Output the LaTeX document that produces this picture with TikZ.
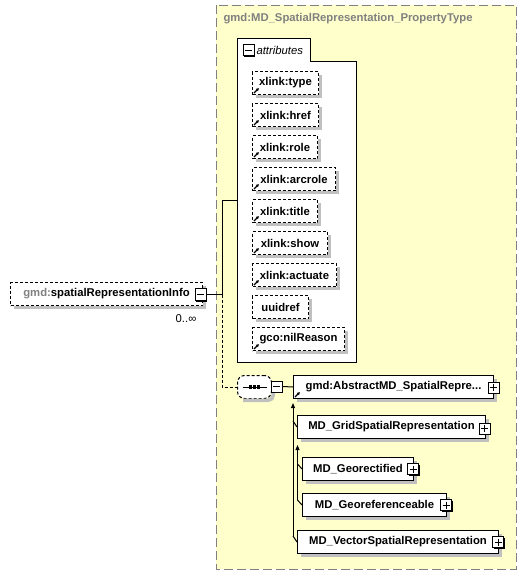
\documentclass[tikz,border=0pt]{standalone}
\usepackage{fontspec}
\setmainfont{Liberation Sans}
\usetikzlibrary{arrows.meta}
\definecolor{ylw}{RGB}{255,255,204}
\definecolor{gry}{RGB}{128,128,128}
\definecolor{shadowgray}{RGB}{192,192,192}
\newcommand{\iconbox}[4]{% name, x, y, style
  \node[#4] (#1) at (#2,#3) {};
  \draw[black,line width=1.2pt] (#2+6.1,#3-4.5) -- (#2+6.1,#3+6.1) -- (#2-4.5,#3+6.1);}
\newcommand{\sbx}[6]{% style, name, x, y, width, text
  \node[#1=#5] (#2) at (#3,#4) {#6};
  \draw[shadowgray,line width=3.5pt] (#3+#5+2.25,#4+4) -- (#3+#5+2.25,#4+25.25) -- (#3+4,#4+25.25);}
\begin{document}
\begin{tikzpicture}[x=1pt,y=-1pt,line width=1pt,
  lbl/.style={font=\fontsize{11.3}{13}\selectfont\bfseries},
  dbox/.style={lbl,draw,fill=white,anchor=north west,minimum height=23pt,inner sep=0pt,minimum width=#1},
  attrbox/.style={dbox=#1,dash pattern=on 3pt off 2pt},
  sbox/.style={dbox=#1},
  pm/.style={draw,fill=white,minimum width=11pt,minimum height=11pt,inner sep=0pt,line width=0.8pt},
  minusic/.style={pm,path picture={\draw[solid,line width=1pt] ([xshift=2pt]path picture bounding box.west) -- ([xshift=-2pt]path picture bounding box.east);}},
  plusic/.style={pm,path picture={\draw[solid,line width=1pt] ([xshift=2pt]path picture bounding box.west) -- ([xshift=-2pt]path picture bounding box.east);
     \draw[solid,line width=1pt] ([yshift=-2pt]path picture bounding box.north) -- ([yshift=2pt]path picture bounding box.south);}},
  refic/.style={line width=1.1pt,-{Latex[length=3pt,width=3.5pt]}},
  conn/.style={line width=1pt},
  tip/.style={line width=1pt,-{Triangle[length=5pt,width=4pt]}}
]
\useasboundingbox (0,0) rectangle (526,576);

% container and attribute group
\draw[gry,dash pattern=on 9pt off 4pt,fill=ylw] (216,5) rectangle (516,569);
\draw[fill=white] (237,38) -- (310,38) -- (310,61) -- (356,61) -- (356,362) -- (237,362) -- cycle;
\node[lbl,gry,anchor=west,inner sep=0pt] (title) at (223,19) {gmd:MD\_SpatialRepresentation\_PropertyType};

\iconbox{attrm}{248.5}{50}{minusic}
\node[anchor=west,inner sep=0pt,font=\fontsize{11.3}{13}\selectfont\itshape] (attrt) at (256,50) {attributes};
\coordinate (attrin) at (237,200);

\sbx{attrbox}{a1}{252}{71}{66}{xlink:type}
\sbx{attrbox}{a2}{252}{103}{66}{xlink:href}
\sbx{attrbox}{a3}{252}{135}{65}{xlink:role}
\sbx{attrbox}{a4}{252}{167}{83}{xlink:arcrole}
\sbx{attrbox}{a5}{252}{199}{65}{xlink:title}
\sbx{attrbox}{a6}{252}{231}{75}{xlink:show}
\sbx{attrbox}{a7}{252}{263}{84}{xlink:actuate}
\sbx{attrbox}{a8}{252}{295}{56}{uuidref}
\sbx{attrbox}{a9}{252}{327}{92}{gco:nilReason}
\foreach \n in {a1,a2,a3,a4,a5,a6,a7,a9}
  \draw[refic] ([shift={(2pt,2pt)}]\n.south west) -- ++(5pt,5pt);

% main element
\sbx{attrbox}{elem}{10}{282}{192}{\textcolor{gry}{gmd:}spatialRepresentationInfo}
\node[minusic,minimum height=12pt] (elemm) at (200.5,294.5) {};
\draw[black,line width=1.2pt] (206.6,289.5) -- (206.6,301.1) -- (196,301.1);
\node[font=\fontsize{11.3}{13}\selectfont,inner sep=0pt] (mult) at (186,319) {0..∞};

\coordinate (jn) at (222,294.5);
\coordinate (jtop) at (222,200);
\draw[conn] (elemm.east) -- (jn);
\draw[conn] (jn) -- (jtop) -- (attrin);

% sequence compositor
\node[draw,fill=white,dash pattern=on 3pt off 2pt,rounded corners=7pt,anchor=north west,
  minimum width=34pt,minimum height=23pt,inner sep=0pt] (seq) at (237,375) {};
\draw[shadowgray,line width=3.5pt,rounded corners=5pt] (273.25,381) -- (273.25,400.25) -- (243,400.25);
\draw[line width=1pt] ([xshift=-12pt]seq.center) -- ([xshift=12pt]seq.center);
\foreach \d in {-4,0,4}
  \fill[black] ([xshift=\d pt]seq.center) +(-1.6pt,-1.6pt) rectangle +(1.6pt,1.6pt);
\iconbox{seqm}{276.5}{386.5}{minusic}
\draw[conn,dash pattern=on 3pt off 2pt] (jn) |- (seq.west);

% children
\sbx{sbox}{abs}{293}{375}{200}{gmd:AbstractMD\_SpatialRepre...}
\iconbox{absp}{493.5}{387.5}{plusic}
\draw[refic] ([shift={(2pt,2pt)}]abs.south west) -- ++(5pt,5pt);
\draw[conn] (seqm.east) -- (abs.west);

\sbx{sbox}{grid}{297}{415}{188}{MD\_GridSpatialRepresentation}
\iconbox{gridp}{484.5}{428.5}{plusic}
\sbx{sbox}{rect}{302}{457}{111}{MD\_Georectified}
\iconbox{rectp}{413}{469}{plusic}
\sbx{sbox}{refb}{302}{493}{144}{MD\_Georeferenceable}
\iconbox{refbp}{446}{505}{plusic}
\sbx{sbox}{vec}{297}{530}{201}{MD\_VectorSpatialRepresentation}
\iconbox{vecp}{498}{542}{plusic}

% inheritance tree
\coordinate (ot) at (293,403);
\coordinate (ob) at (293,536);
\coordinate (og) at (293,421);
\draw[tip] (ob) -- (ot);
\draw[conn] (og) -- (grid.west);
\draw[conn] (ob) -- (vec.west);
\coordinate (it) at (297.5,445);
\coordinate (ib) at (297.5,500);
\coordinate (ir) at (297.5,464);
\draw[tip] (ib) -- (it);
\draw[conn] (ir) -- (rect.west);
\draw[conn] (ib) -- (refb.west);
\end{tikzpicture}
\end{document}
